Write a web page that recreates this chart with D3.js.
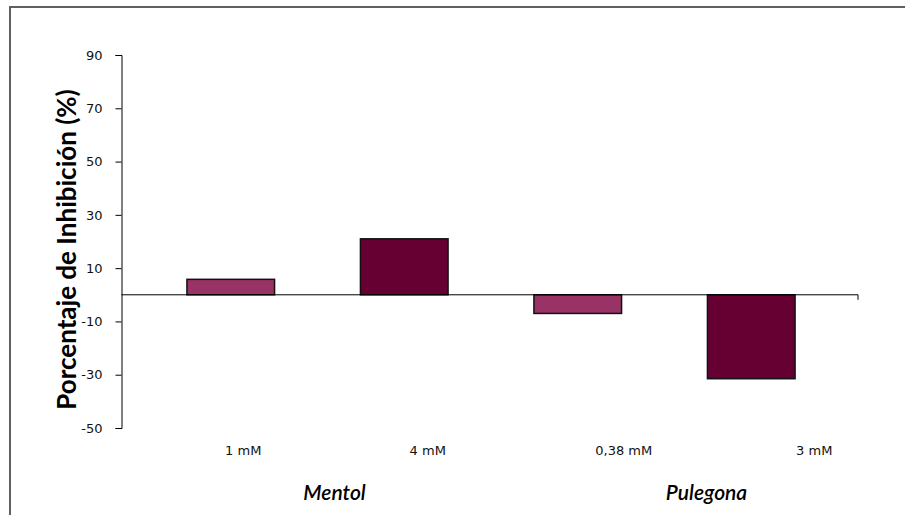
<!DOCTYPE html>
<html>
<head>
<meta charset="utf-8">
<script src="https://cdn.jsdelivr.net/npm/d3@7"></script>
<style>
  html, body { margin: 0; padding: 0; background: #ffffff; }
  svg { display: block; }
</style>
</head>
<body>
<svg id="chart" width="905" height="515"></svg>
<script>
// Inhibition percentage for menthol and pulegone at two concentrations each
const categories = ["1 mM", "4 mM", "0,38 mM", "3 mM"];
const values = [5.8, 21.0, -7.0, -31.5];
const compounds = ["Mentol", "Mentol", "Pulegona", "Pulegona"];
const groups = ["Mentol", "Pulegona"];
const yTicks = [90, 70, 50, 30, 10, -10, -30, -50];
const barColors = ["#993366", "#660033", "#993366", "#660033"];

const svg = d3.select("#chart");

// Frame around the chart area
svg.append("rect")
  .attr("x", 10).attr("y", 7)
  .attr("width", 1000).attr("height", 600)
  .attr("fill", "none")
  .attr("stroke", "#606060")
  .attr("stroke-width", 2);

const y = d3.scaleLinear().domain([-50, 90]).range([428, 55]);
const x = d3.scaleBand()
  .domain(categories)
  .range([144, 838])
  .paddingInner(0.495)
  .paddingOuter(0.2475);

const axisX0 = 121.5, axisX1 = 858;

// Value axis
const yAxis = d3.axisLeft(y)
  .tickValues(yTicks)
  .tickSize(6)
  .tickPadding(13)
  .tickFormat(d => String(d));

const gy = svg.append("g")
  .attr("transform", `translate(${axisX0},0)`)
  .call(yAxis);
gy.select(".domain").attr("stroke", "#000").attr("stroke-width", 1);
gy.selectAll(".tick line").attr("stroke", "#000");
gy.selectAll(".tick text")
  .attr("fill", "#111")
  .style("font-family", "'DejaVu Sans', Verdana, sans-serif")
  .style("font-size", "13px");

// Bars
svg.append("g").selectAll("rect")
  .data(values)
  .join("rect")
  .attr("x", (d, i) => x(categories[i]))
  .attr("width", x.bandwidth())
  .attr("y", d => y(Math.max(0, d)))
  .attr("height", d => Math.abs(y(d) - y(0)))
  .attr("fill", (d, i) => barColors[i])
  .attr("stroke", "#111")
  .attr("stroke-width", 1.5);

// Category axis along zero
svg.append("path")
  .attr("d", `M${axisX0},${y(0)}H${axisX1}v5`)
  .attr("fill", "none")
  .attr("stroke", "#000")
  .attr("stroke-width", 1);

// Concentration labels (sit a little right of each bar)
const labelShift = [12.5, 23.5, 46, 63];
svg.append("g").selectAll("text")
  .data(categories)
  .join("text")
  .attr("x", (d, i) => x(d) + x.bandwidth() / 2 + labelShift[i])
  .attr("y", 455)
  .attr("text-anchor", "middle")
  .attr("fill", "#111")
  .style("font-family", "'DejaVu Sans', Verdana, sans-serif")
  .style("font-size", "13px")
  .text(d => d);

// Compound names under each pair
const groupShift = [17, 42];
svg.append("g").selectAll("text")
  .data(groups)
  .join("text")
  .attr("x", (g, gi) => {
    const members = categories.filter((c, i) => compounds[i] === g);
    return d3.mean(members, c => x(c) + x.bandwidth() / 2) + groupShift[gi];
  })
  .attr("y", 500)
  .attr("text-anchor", "middle")
  .attr("fill", "#000")
  .style("font-family", "Lato, 'Open Sans', sans-serif")
  .style("font-style", "italic")
  .style("font-weight", "600")
  .style("font-size", "21px")
  .text(d => d);

// Value axis title
svg.append("text")
  .attr("transform", `translate(76,${(y(90) + y(-50)) / 2 + 8}) rotate(-90)`)
  .attr("text-anchor", "middle")
  .attr("fill", "#000")
  .style("font-family", "Lato, 'Open Sans', sans-serif")
  .style("font-weight", "bold")
  .style("font-size", "26px")
  .text("Porcentaje de Inhibición (%)");
</script>
</body>
</html>
